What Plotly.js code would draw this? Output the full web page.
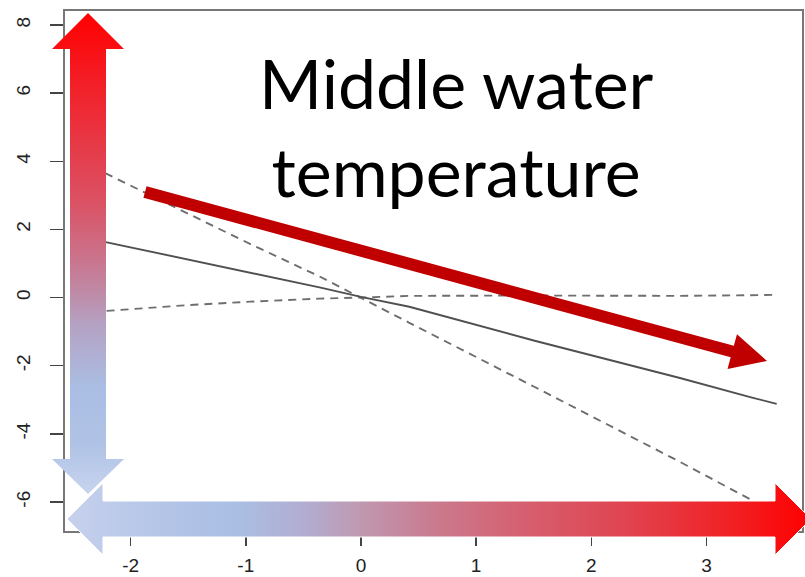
<!DOCTYPE html>
<html>
<head>
<meta charset="utf-8">
<script src="https://cdn.plot.ly/plotly-3.0.1.min.js"></script>
<style>html,body{margin:0;padding:0;background:#fff;}</style>
</head>
<body>
<div id="chart" style="width:805px;height:577px;"></div>
<script>
// ---- data ----
const xValues   = [-2.33, -1.5, -0.96, -0.36, 0, 0.42, 1.5, 2.77, 3.38, 3.61];
const fitValues = [1.71, 1.12, 0.73, 0.30, 0.02, -0.27, -1.26, -2.36, -2.92, -3.12];
const upperBand = [3.83, 2.45, 1.57, 0.62, 0.00, -0.74, -2.61, -4.82, -5.92, -6.34];
const lowerBand = [-0.42, -0.22, -0.12, -0.03, 0.00, 0.05, 0.06, 0.05, 0.07, 0.08];
const xTicks = [-2, -1, 0, 1, 2, 3];
const yTicks = [-6, -4, -2, 0, 2, 4, 6, 8];
const labelLines = ["Middle water", "temperature"];

// ---- layout geometry ----
const W = 805, H = 577;
const M = {l: 65, r: 3, t: 11, b: 46};
const PW = W - M.l - M.r, PH = H - M.t - M.b;

// ---- decorative arrows (pixel space of the figure) ----
function pts(a){ return a.map(p => p[0] + ',' + p[1]).join(' '); }
const vArrow = [[88,13],[124,49],[106,49],[106,459],[124,459],[88,494],[52,459],[70,459],[70,49],[52,49]];
const hArrow = [[67,519],[103,483],[103,501],[775,501],[775,483],[811,519],[775,555],[775,537],[103,537],[103,555]];
function lineArrow(s, tip, halfBody, headLen, halfHead){
  const dx = tip[0]-s[0], dy = tip[1]-s[1], L = Math.hypot(dx, dy);
  const ux = dx/L, uy = dy/L, px = -uy, py = ux;
  const b = [tip[0]-ux*headLen, tip[1]-uy*headLen];
  return [
    [s[0]+px*halfBody, s[1]+py*halfBody],
    [b[0]+px*halfBody, b[1]+py*halfBody],
    [b[0]+px*halfHead, b[1]+py*halfHead],
    tip,
    [b[0]-px*halfHead, b[1]-py*halfHead],
    [b[0]-px*halfBody, b[1]-py*halfBody],
    [s[0]-px*halfBody, s[1]-py*halfBody]
  ];
}
const redArrow = lineArrow([145,192],[767,361],6,36,18);

const vStops = [[0,'#ff0000'],[0.2,'#ee2a35'],[0.4,'#da5366'],[0.55,'#c4809a'],[0.65,'#b4a2c4'],[0.78,'#aabee4'],[0.9,'#b0c3e6'],[1,'#c8d4ee']];
const hStops = [[0,'#c6d1ec'],[0.16,'#b0c2e6'],[0.226,'#aabfe4'],[0.324,'#b2acd0'],[0.39,'#bf9ab2'],[0.488,'#c97c90'],[0.62,'#d65e6e'],[0.75,'#e04450'],[0.88,'#ef2428'],[1,'#ff0000']];
function stops(a){ return a.map(s => "<stop offset='" + s[0] + "' stop-color='" + s[1] + "'/>").join(''); }

const svg = "<svg xmlns='http://www.w3.org/2000/svg' width='" + W + "' height='" + H + "' viewBox='0 0 " + W + " " + H + "'>" +
  "<defs>" +
  "<linearGradient id='gv' gradientUnits='userSpaceOnUse' x1='0' y1='13' x2='0' y2='494'>" + stops(vStops) + "</linearGradient>" +
  "<linearGradient id='gh' gradientUnits='userSpaceOnUse' x1='67' y1='0' x2='811' y2='0'>" + stops(hStops) + "</linearGradient>" +
  "</defs>" +
  "<polygon points='" + pts(vArrow) + "' fill='url(#gv)'/>" +
  "<polygon points='" + pts(hArrow) + "' fill='url(#gh)' stroke='#ffffff' stroke-width='1'/>" +
  "<polygon points='" + pts(redArrow) + "' fill='#c00000'/>" +
  "</svg>";
const svgUri = 'data:image/svg+xml;charset=utf-8,' + encodeURIComponent(svg);

const traces = [
  {x: xValues, y: upperBand, mode: 'lines', line: {color: '#6e6e6e', width: 1.9, dash: '8px,6px'}, hoverinfo: 'skip'},
  {x: xValues, y: lowerBand, mode: 'lines', line: {color: '#6e6e6e', width: 1.9, dash: '8px,6px'}, hoverinfo: 'skip'},
  {x: xValues, y: fitValues, mode: 'lines', line: {color: '#505050', width: 1.9}, hoverinfo: 'skip'}
];

const axisCommon = {
  showgrid: false, zeroline: false, showline: true, mirror: true,
  linecolor: '#777777', linewidth: 2,
  ticks: 'outside', ticklen: 13, tickwidth: 1.5, tickcolor: '#444444',
  tickfont: {family: 'Liberation Sans, Arial, sans-serif', size: 19, color: '#222222'},
  fixedrange: true
};

const layout = {
  width: W, height: H,
  margin: M,
  paper_bgcolor: '#ffffff', plot_bgcolor: '#ffffff',
  showlegend: false,
  xaxis: Object.assign({}, axisCommon, {
    range: [-2.57, 3.83], tickmode: 'array', tickvals: xTicks, ticktext: xTicks.map(String),
    ticklabelstandoff: 3
  }),
  yaxis: Object.assign({}, axisCommon, {
    range: [-6.85, 8.41], tickmode: 'array', tickvals: yTicks, ticktext: yTicks.map(String),
    tickangle: -90, ticklabelstandoff: 12
  }),
  images: [{
    source: svgUri, xref: 'paper', yref: 'paper',
    x: -M.l / PW, y: 1 + M.t / PH, sizex: W / PW, sizey: H / PH,
    xanchor: 'left', yanchor: 'top', sizing: 'stretch', layer: 'above'
  }],
  annotations: [{
    text: labelLines.join('<br>'), showarrow: false,
    xref: 'paper', yref: 'paper',
    x: (456 - M.l) / PW, y: 1 - (127 - M.t) / PH,
    xanchor: 'center', yanchor: 'middle', align: 'center',
    font: {family: 'Lato, Carlito, Calibri, sans-serif', size: 68, color: '#000000'}
  }]
};

Plotly.newPlot('chart', traces, layout, {staticPlot: true, displayModeBar: false});
</script>
</body>
</html>
